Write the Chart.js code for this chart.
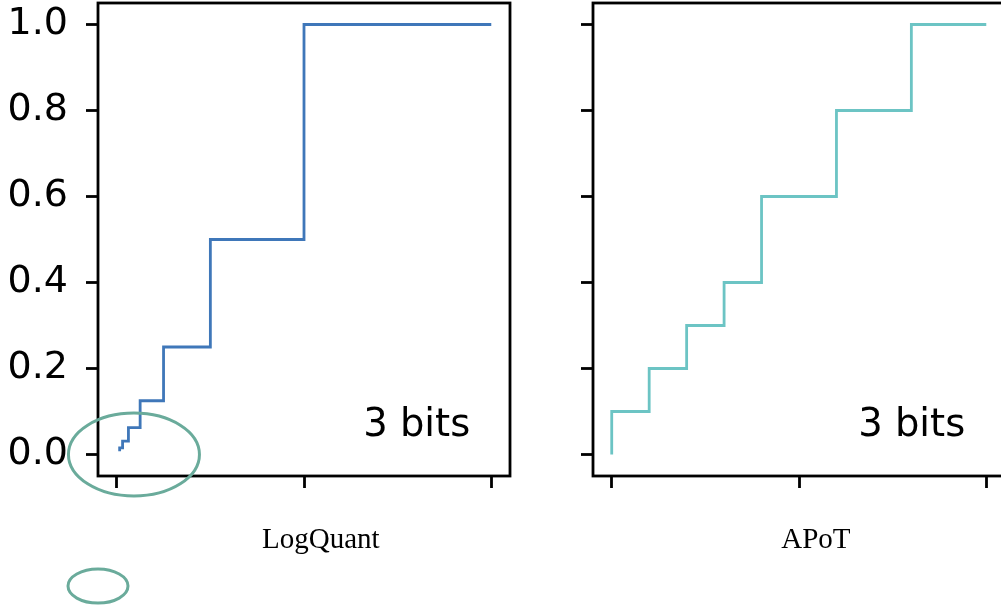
<!DOCTYPE html>
<html>
<head>
<meta charset="utf-8">
<script src="https://cdn.jsdelivr.net/npm/chart.js@4/dist/chart.umd.min.js"></script>
<style>
  html, body { margin: 0; padding: 0; background: #fff; overflow: hidden; }
  body { width: 1001px; height: 614px; position: relative; }
  .painel { position: absolute; top: 0; height: 614px; }
  #painel_esq { left: 0; width: 560px; }
  #painel_dir { left: 540px; width: 520px; }
</style>
</head>
<body>
<div class="painel" id="painel_esq"><canvas id="grafico_esq"></canvas></div>
<div class="painel" id="painel_dir"><canvas id="grafico_dir"></canvas></div>
<script>
// dados
const xTicks = [0, 0.5, 1];
const yTicks = [0, 0.2, 0.4, 0.6, 0.8, 1.0];
const yTickLabels = ['0.0', '0.2', '0.4', '0.6', '0.8', '1.0'];
const logQuantLevels = [1 / 128, 1 / 64, 1 / 32, 1 / 16, 1 / 8, 1 / 4, 1 / 2, 1];
const apotLevels = [0, 0.1, 0.2, 0.3, 0.4, 0.6, 0.8, 1.0];
const nomes = ['LogQuant', 'APoT'];
const textoBits = '3 bits';

const corLog = '#3f77b9';
const corApot = '#6cc4c4';
const corElipse = '#6aab9b';

// plugin: moldura, texto "3 bits", rótulo do eixo e elipses
const extras = {
    id: 'extras',
    afterDraw(chart, args, opts) {
        const ctx = chart.ctx;
        const a = chart.chartArea;
        const xs = chart.scales.x, ys = chart.scales.y;
        ctx.save();
        ctx.strokeStyle = '#000';
        ctx.lineWidth = 2.8;
        ctx.strokeRect(a.left, a.top, a.right - a.left, a.bottom - a.top);

        ctx.fillStyle = '#000';
        ctx.font = '38.5px "DejaVu Sans"';
        ctx.textAlign = 'left';
        ctx.textBaseline = 'alphabetic';
        ctx.fillText(textoBits, xs.getPixelForValue(0.658), ys.getPixelForValue(0.042));

        ctx.font = '29px "Liberation Serif"';
        ctx.textAlign = 'center';
        ctx.fillText(opts.titulo, xs.getPixelForValue(0.545), 548);

        (opts.elipses || []).forEach(e => {
            ctx.beginPath();
            ctx.strokeStyle = corElipse;
            ctx.lineWidth = 3;
            ctx.ellipse(xs.getPixelForValue(e.x), ys.getPixelForValue(e.y), e.rx, e.ry, 0, 0, Math.PI * 2);
            ctx.stroke();
        });
        ctx.restore();
    }
};

function criaGrafico(id, niveis, cor, titulo, larguraY, mostraRotulos, elipses) {
    return new Chart(document.getElementById(id), {
        type: 'line',
        data: {
            datasets: [{
                data: niveis.map(v => ({ x: v, y: v })),
                borderColor: cor,
                borderWidth: 2.8,
                pointRadius: 0,
                stepped: 'after',
                fill: false,
                clip: false
            }]
        },
        options: {
            responsive: true,
            maintainAspectRatio: false,
            devicePixelRatio: 1,
            animation: false,
            layout: { padding: { top: 3, right: id === 'grafico_esq' ? 50 : 55, left: 0, bottom: 0 } },
            plugins: {
                legend: { display: false },
                tooltip: { enabled: false },
                extras: { titulo: titulo, elipses: elipses }
            },
            scales: {
                x: {
                    type: 'linear',
                    min: -0.05,
                    max: 1.05,
                    afterBuildTicks: s => { s.ticks = xTicks.map(v => ({ value: v })); },
                    afterFit: s => {
                        s.height = 138;
                        s.paddingLeft = 0; s.paddingRight = 0;
                    },
                    ticks: { display: false },
                    border: { display: false },
                    grid: { drawOnChartArea: false, drawTicks: true, tickLength: 12, tickWidth: 2.8, color: '#000' }
                },
                y: {
                    type: 'linear',
                    min: -0.05,
                    max: 1.05,
                    afterBuildTicks: s => { s.ticks = yTicks.map(v => ({ value: v })); },
                    afterFit: s => {
                        s.width = larguraY;
                        s.paddingTop = 0; s.paddingBottom = 0;
                    },
                    ticks: {
                        display: mostraRotulos,
                        padding: 18,
                        color: '#000',
                        font: { family: 'DejaVu Sans', size: 38 },
                        callback: (v, i) => yTickLabels[i]
                    },
                    border: { display: false },
                    grid: { drawOnChartArea: false, drawTicks: true, tickLength: 12, tickWidth: 2.8, color: '#000' }
                }
            }
        },
        plugins: [extras]
    });
}

criaGrafico('grafico_esq', logQuantLevels, corLog, nomes[0], 98, true, [
    { x: 0.046, y: 0.0, rx: 65.5, ry: 41.5 },
    { x: -0.05, y: -0.306, rx: 30, ry: 17 }
]);
criaGrafico('grafico_dir', apotLevels, corApot, nomes[1], 53, false, []);
</script>
</body>
</html>
